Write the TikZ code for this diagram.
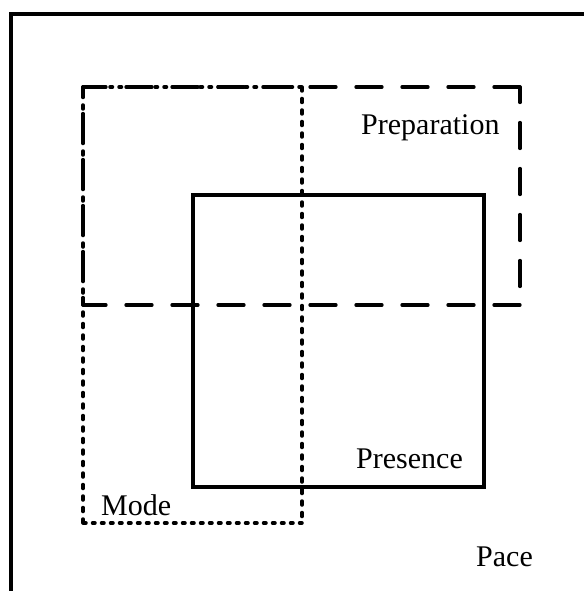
\documentclass[tikz,border=0pt]{standalone}
\usepackage{fontspec}
\setmainfont{Liberation Serif}
\begin{document}
\begin{tikzpicture}[x=1pt,y=-1pt,
  frameline/.style={draw=black,line width=3.3pt,line join=miter},
  dashside/.style={draw=black,line width=3.3pt,line cap=round,dash pattern=on 26pt off 20pt},
  dotside/.style={draw=black,line width=3.5pt,line cap=round},
  lbl/.style={anchor=base west,inner sep=0pt,font=\fontsize{30}{36}\selectfont}]
\useasboundingbox (0,0) rectangle (584,591);
% outer frame (open on right and bottom)
\draw[frameline] (11,591) -- (11,14) -- (584,14);
% Presence (solid)
\draw[frameline] (193,195) rectangle (484,487);
% Preparation (dashed)
\coordinate (pTL) at (83,87);
\coordinate (pTR) at (520,87);
\coordinate (pBR) at (520,305);
\coordinate (pBL) at (83,305);
\draw[dashside] (pTR) -- (pTL);
\draw[dashside,dash phase=10.5pt] (pTR) -- (pBR);
\draw[dashside] (pBR) -- (pBL);
\draw[dashside,dash phase=19.5pt] (pTL) -- (pBL);
% Mode (dotted)
\coordinate (mTL) at (83,87);
\coordinate (mTR) at (302,87);
\coordinate (mBR) at (302,523);
\coordinate (mBL) at (83,523);
\draw[dotside,dash pattern=on 2.5pt off 6.5pt] (mTL) -- (mTR);
\draw[dotside,dash pattern=on 4pt off 7.5pt] (mTR) -- (mBR);
\draw[dotside,dash pattern=on 2.5pt off 6.5pt] (mBR) -- (mBL);
\draw[dotside,dash pattern=on 4pt off 7.5pt] (mBL) -- (mTL);
% labels
\node[lbl] (preparation) at (361,135) {Preparation};
\node[lbl] (presence) at (356,468) {Presence};
\node[lbl] (mode) at (101,515) {Mode};
\node[lbl] (pace) at (476,566) {Pace};
\end{tikzpicture}
\end{document}
